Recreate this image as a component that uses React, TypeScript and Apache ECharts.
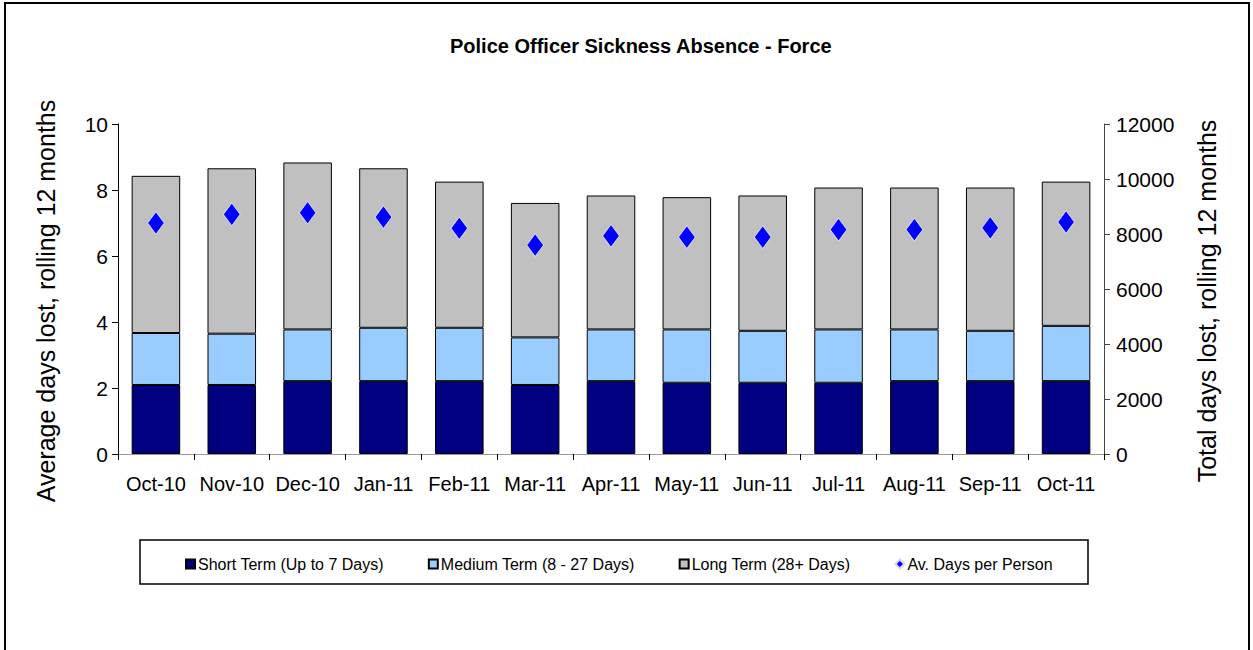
import React, { useEffect, useRef } from "react";
import * as echarts from "echarts";

const categories = ["Oct-10", "Nov-10", "Dec-10", "Jan-11", "Feb-11", "Mar-11", "Apr-11", "May-11", "Jun-11", "Jul-11", "Aug-11", "Sep-11", "Oct-11"];
const shortTerm = [2510, 2510, 2650, 2650, 2650, 2510, 2650, 2590, 2590, 2590, 2650, 2650, 2650];
const mediumTerm = [1890, 1865, 1880, 1940, 1940, 1730, 1880, 1940, 1890, 1940, 1880, 1830, 2010];
const longTerm = [5715, 6015, 6070, 5800, 5315, 4890, 4870, 4810, 4920, 5160, 5160, 5210, 5245];
const avgDays = [7.0, 7.26, 7.31, 7.18, 6.84, 6.33, 6.61, 6.57, 6.57, 6.8, 6.8, 6.85, 7.03];

const SANS = "'Liberation Sans', Arial, sans-serif";

export default function App() {
  const ref = useRef<HTMLDivElement>(null);
  useEffect(() => {
    if (!ref.current) return;
    const chart = echarts.init(ref.current, null, { renderer: "svg" });
    const barStyle = (color: string) => ({ color, borderColor: "#000", borderWidth: 1 });
    chart.setOption({
      animation: false,
      backgroundColor: "#fff",
      title: {
        text: "Police Officer Sickness Absence - Force",
        left: 445,
        top: 31,
        textStyle: { fontFamily: SANS, fontSize: 20, fontWeight: "bold", color: "#000" },
      },
      grid: { left: 118, right: 149, top: 124, bottom: 196 },
      legend: {
        left: 180,
        top: 551,
        itemGap: 44,
        itemWidth: 9,
        itemHeight: 9,
        textStyle: { fontFamily: SANS, fontSize: 16, color: "#000", padding: [0, 0, 0, -2] },
        data: [
          { name: "Short Term (Up to 7 Days)", icon: "rect" },
          { name: "Medium Term (8 - 27 Days)", icon: "rect" },
          { name: "Long Term (28+ Days)", icon: "rect" },
          { name: "Av. Days per Person", icon: "diamond" },
        ],
      },
      xAxis: [
        {
          type: "category",
          data: categories,
          boundaryGap: true,
          axisLine: { lineStyle: { color: "#000", width: 1 } },
          axisTick: { show: true, length: 6, alignWithLabel: false, lineStyle: { color: "#000" } },
          axisLabel: { fontFamily: SANS, fontSize: 20, color: "#000", margin: 20, interval: 0 },
        },
        {
          type: "category",
          data: categories,
          position: "top",
          axisLine: { lineStyle: { color: "#999", width: 1 } },
          axisTick: { show: false },
          axisLabel: { show: false },
        },
      ],
      yAxis: [
        {
          type: "value",
          min: 0,
          max: 10,
          interval: 2,
          position: "left",
          name: "Average days lost, rolling 12 months",
          nameLocation: "middle",
          nameRotate: 90,
          nameGap: 60,
          nameTextStyle: { fontFamily: SANS, fontSize: 25, color: "#000", padding: [0, 24, 0, 0] },
          axisLine: { show: true, lineStyle: { color: "#000" } },
          axisTick: { show: true, length: 6, lineStyle: { color: "#000" } },
          axisLabel: { fontFamily: SANS, fontSize: 21, color: "#000", margin: 10 },
          splitLine: { show: false },
        },
        {
          type: "value",
          min: 0,
          max: 12000,
          interval: 2000,
          position: "right",
          name: "Total days lost, rolling 12 months",
          nameLocation: "middle",
          nameRotate: 90,
          nameGap: 90,
          nameTextStyle: { fontFamily: SANS, fontSize: 25, color: "#000", padding: [0, 24, 0, 0] },
          axisLine: { show: true, lineStyle: { color: "#444" } },
          axisTick: { show: true, length: 6, lineStyle: { color: "#444" } },
          axisLabel: { fontFamily: SANS, fontSize: 21, color: "#000", margin: 12, formatter: (v: number) => String(v) },
          splitLine: { show: false },
        },
      ],
      series: [
        { name: "Short Term (Up to 7 Days)", type: "bar", stack: "t", yAxisIndex: 1, data: shortTerm, barCategoryGap: "36%", itemStyle: barStyle("#000080") },
        { name: "Medium Term (8 - 27 Days)", type: "bar", stack: "t", yAxisIndex: 1, data: mediumTerm, itemStyle: barStyle("#99CCFF") },
        { name: "Long Term (28+ Days)", type: "bar", stack: "t", yAxisIndex: 1, data: longTerm, itemStyle: barStyle("#C0C0C0") },
        {
          name: "Av. Days per Person",
          type: "scatter",
          yAxisIndex: 0,
          data: avgDays,
          symbol: "diamond",
          symbolSize: [17, 23],
          itemStyle: { color: "#0000FF", borderColor: "#D8D8F0", borderWidth: 1, opacity: 1 },
          z: 5,
        },
      ],
      graphic: [
        { type: "rect", shape: { x: 5, y: 3, width: 1244, height: 700 }, style: { fill: "none", stroke: "#000", lineWidth: 2 }, silent: true },
        { type: "rect", shape: { x: 140, y: 540, width: 948, height: 44 }, style: { fill: "none", stroke: "#000", lineWidth: 1.5 }, silent: true },
      ],
    });
    return () => chart.dispose();
  }, []);
  return <div ref={ref} style={{ position: "fixed", left: 0, top: 0, width: 1253, height: 650 }} />;
}
